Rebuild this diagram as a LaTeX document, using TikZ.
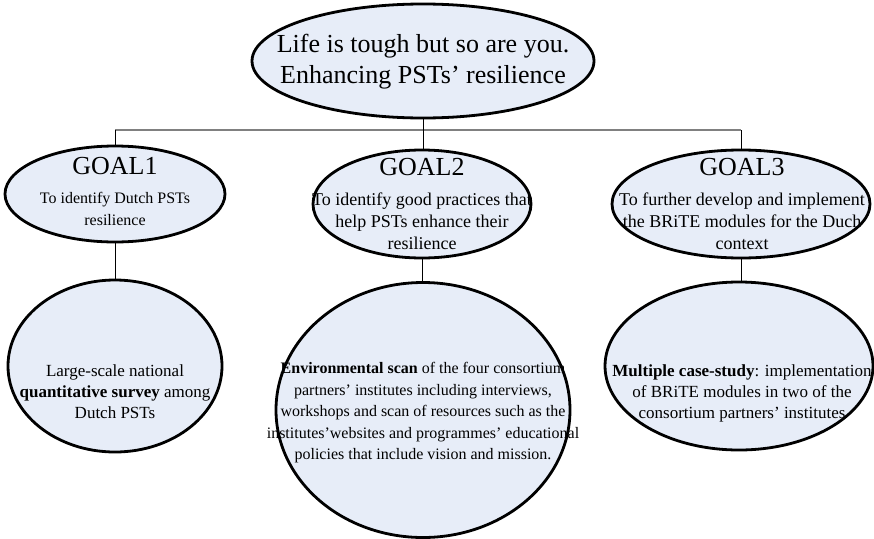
\documentclass[tikz,border=0pt]{standalone}
\usepackage{fontspec}
\setmainfont{Liberation Serif}
\usetikzlibrary{shapes.geometric,calc}
\definecolor{nodefill}{RGB}{231,237,248}
\definecolor{busgray}{RGB}{128,128,128}
\tikzset{
  oval/.style={ellipse, draw=black, line width=2.8pt, fill=nodefill, inner sep=0pt},
  bigtxt/.style={align=center, inner sep=0pt, font=\fontsize{26}{31}\selectfont},
  headtxt/.style={inner sep=0pt, font=\fontsize{26}{28}\selectfont},
  subtxt/.style={align=center, inner sep=0pt, font=\fontsize{16}{21.5}\selectfont},
  subbig/.style={align=center, inner sep=0pt, font=\fontsize{18}{22}\selectfont},
  submid/.style={align=center, inner sep=0pt, font=\fontsize{17}{21}\selectfont},
  link/.style={draw=black, line width=0.9pt},
  bus/.style={draw=busgray, line width=2pt}
}
\begin{document}
\begin{tikzpicture}[x=1pt,y=-1pt]
\useasboundingbox (0,0) rectangle (874,538);
% top node
\node[oval, minimum width=342pt, minimum height=114pt] (top) at (423,61) {};
\node[bigtxt] (toptxt) at (423,62) {Life is tough but so are you.\\Enhancing PSTs’ resilience};
% goal nodes
\node[oval, minimum width=220pt, minimum height=96pt] (g1) at (115,194) {};
\node[oval, minimum width=218pt, minimum height=108pt] (g2) at (422,204) {};
\node[oval, minimum width=258pt, minimum height=108pt] (g3) at (741,204) {};
% bottom nodes
\node[oval, minimum width=214pt, minimum height=172pt] (b1) at (115,366) {};
\node[oval, minimum width=294pt, minimum height=255pt] (b2) at (423,410) {};
\node[oval, minimum width=268pt, minimum height=168pt] (b3) at (739,366) {};
% bus
\coordinate (busy) at (0,130);
\draw[bus] (g1.north |- busy) -- (g3.north |- busy);
\draw[link] (top.south) -- (top.south |- busy);
\draw[link] (top.south |- busy) -- (top.south |- g2.north);
\draw[link] (g1.north) -- (g1.north |- busy);
\draw[link] (g3.north) -- (g3.north |- busy);
\draw[link] (g1.south) -- (b1.north);
\draw[link] (g2.south) -- (g2.south |- b2.north);
\draw[link] (g3.south) -- (g3.south |- b3.north);
% goal texts
\node[headtxt] (h1) at (115,166) {GOAL1};
\node[subtxt] (s1) at (115,209) {To identify Dutch PSTs\\resilience};
\node[headtxt] (h2) at (422,167) {GOAL2};
\node[subbig] (s2) at (422,221) {To identify good practices that\\help PSTs enhance their\\resilience};
\node[headtxt] (h3) at (742,167) {GOAL3};
\node[subbig] (s3) at (742,221) {To further develop and implement\\the BRiTE modules for the Duch\\context};
% bottom texts
\node[submid] (t1) at (115,392) {Large-scale national\\\textbf{quantitative survey} among\\Dutch PSTs};
\node[subtxt] (t2) at (423,413) {\textbf{Environmental scan} of the four consortium\\partners’ institutes including interviews,\\workshops and scan of resources such as the\\institutes’websites and programmes’ educational\\policies that include vision and mission.};
\node[submid] (t3) at (742,393) {\textbf{Multiple case-study}: implementation\\of BRiTE modules in two of the\\consortium partners’ institutes};
\end{tikzpicture}
\end{document}
